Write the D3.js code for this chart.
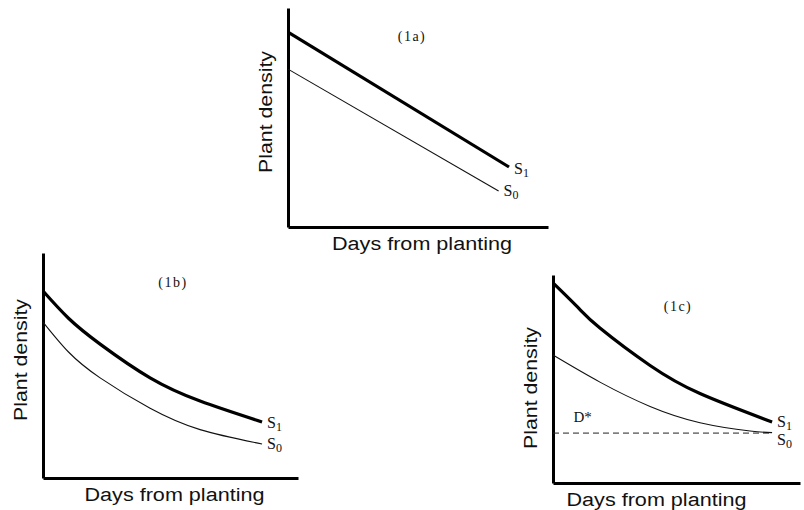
<!DOCTYPE html>
<html>
<head>
<meta charset="utf-8">
<script src="https://cdn.jsdelivr.net/npm/d3@7"></script>
<style>
  html, body { margin: 0; padding: 0; background: #fff; }
  svg { display: block; }
  .axis path { stroke: #000; stroke-width: 3; }
  .sans { font-family: "Liberation Sans", Arial, sans-serif; font-size: 18px; fill: #111; }
  .serif { font-family: "Liberation Serif", "Times New Roman", serif; fill: #111; }
</style>
</head>
<body>
<svg id="chart" width="804" height="510"></svg>
<script>
// panel titles and axis captions
var panelLabels = ["(1a)", "(1b)", "(1c)"];
var xCaption = "Days from planting";
var yCaption = "Plant density";

// series values, [days, density] on a 0-10 scale
var s1a = [[0, 8.9], [8.5, 2.74]];
var s0a = [[0, 7.21], [8.1, 1.64]];

var s1b = [[0, 8.31], [1, 7.1], [2.24, 5.95], [4.2, 4.45], [6.16, 3.42], [8.59, 2.49]];
var s0b = [[0, 6.93], [1, 5.6], [2.24, 4.45], [4.2, 3.1], [6.16, 2.15], [8.59, 1.51]];

var s1c = [[0, 9.62], [1, 8.45], [1.9, 7.45], [3.93, 5.65], [5.95, 4.3], [8.87, 2.93]];
var s0c = [[0, 6.15], [1.9, 4.85], [3.93, 3.68], [5.95, 2.9], [7.98, 2.5], [8.87, 2.42]];

// threshold density D* in panel 1c
var dStar = [[0, 2.40], [8.87, 2.40]];

var svg = d3.select("#chart");
svg.append("rect").attr("width", 804).attr("height", 510).attr("fill", "#fff");

function drawPanel(cfg) {
    var x = d3.scaleLinear().domain([0, 10]).range([cfg.left, cfg.right]);
    var y = d3.scaleLinear().domain([0, 10]).range([cfg.bottom, cfg.top]);
    var g = svg.append("g");

    g.append("g").attr("class", "axis")
        .attr("transform", "translate(" + cfg.left + ",0)")
        .call(d3.axisLeft(y).ticks(0).tickSizeOuter(0));
    g.append("g").attr("class", "axis")
        .attr("transform", "translate(0," + cfg.bottom + ")")
        .call(d3.axisBottom(x).ticks(0).tickSizeOuter(0));

    var line = d3.line()
        .x(function(d) { return x(d[0]); })
        .y(function(d) { return y(d[1]); })
        .curve(cfg.curve);

    if (cfg.dashed) {
        g.append("path").datum(cfg.dashed)
            .attr("d", d3.line().x(function(d) { return x(d[0]); }).y(function(d) { return y(d[1]); }))
            .attr("fill", "none").attr("stroke", "#222").attr("stroke-width", 1)
            .attr("stroke-dasharray", "6,4");
        g.append("text").attr("class", "serif")
            .attr("x", x(1.2)).attr("y", y(dStar[0][1]) - 11)
            .attr("text-anchor", "middle").style("font-size", "15px")
            .text("D*");
    }

    g.append("path").datum(cfg.s0).attr("d", line)
        .attr("fill", "none").attr("stroke", "#111").attr("stroke-width", 1.1);
    g.append("path").datum(cfg.s1).attr("d", line)
        .attr("fill", "none").attr("stroke", "#000").attr("stroke-width", 3.2);

    // end labels S1 / S0
    [[cfg.s1, "1", cfg.dy1], [cfg.s0, "0", cfg.dy0]].forEach(function(s) {
        var last = s[0][s[0].length - 1];
        var t = g.append("text").attr("class", "serif")
            .attr("x", x(last[0]) + 5).attr("y", y(last[1]) + s[2])
            .style("font-size", "16px");
        t.append("tspan").text("S");
        t.append("tspan").attr("dy", 3).style("font-size", "12px").text(s[1]);
    });

    g.append("text").attr("class", "serif")
        .attr("x", cfg.titleX).attr("y", cfg.titleY)
        .attr("text-anchor", "middle").style("font-size", "14px")
        .style("letter-spacing", "1.5px")
        .text(cfg.title);

    g.append("text").attr("class", "sans")
        .attr("x", (cfg.left + cfg.right) / 2 + cfg.capShift).attr("y", cfg.bottom + 23)
        .attr("text-anchor", "middle")
        .attr("textLength", 180).attr("lengthAdjust", "spacingAndGlyphs")
        .text(xCaption);

    g.append("text").attr("class", "sans")
        .attr("transform", "translate(" + (cfg.left - 16) + "," + cfg.ycap + ") rotate(-90)")
        .attr("text-anchor", "middle")
        .attr("textLength", 122).attr("lengthAdjust", "spacingAndGlyphs")
        .text(yCaption);
}

drawPanel({ left: 288, right: 548, top: 8, bottom: 227, s1: s1a, s0: s0a,
    curve: d3.curveLinear, title: panelLabels[0], titleX: 412, titleY: 41,
    dy1: 7, dy0: 5, capShift: 4, ycap: 112 });
drawPanel({ left: 43, right: 298, top: 253, bottom: 478, s1: s1b, s0: s0b,
    curve: d3.curveNatural, title: panelLabels[1], titleX: 173, titleY: 287,
    dy1: 6, dy0: 5, capShift: 4, ycap: 360 });
drawPanel({ left: 553, right: 800, top: 275, bottom: 483, s1: s1c, s0: s0c,
    curve: d3.curveNatural, title: panelLabels[2], titleX: 678, titleY: 311,
    dy1: 5, dy0: 12, capShift: -20, ycap: 388, dashed: dStar });
</script>
</body>
</html>
